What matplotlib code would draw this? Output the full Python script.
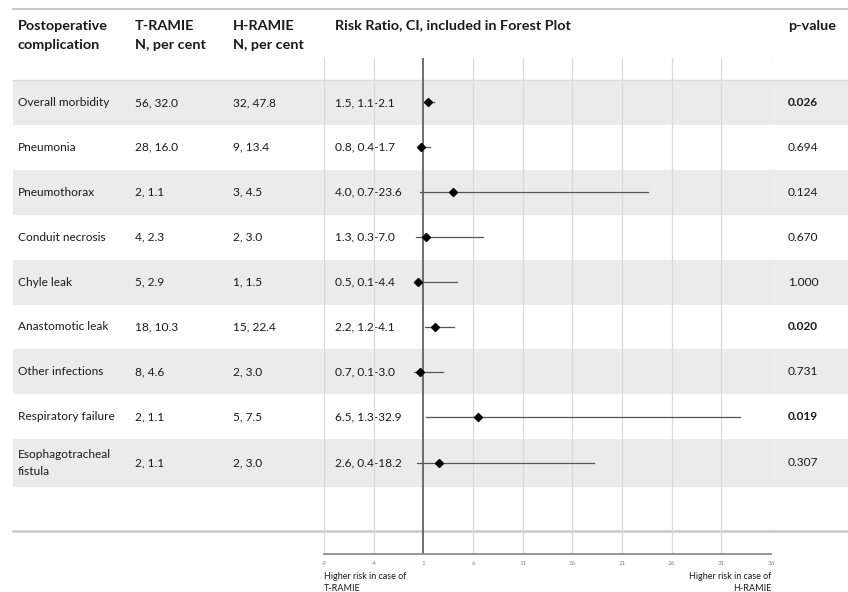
import matplotlib.pyplot as plt

plt.rcParams['font.family'] = ['Lato', 'DejaVu Sans']

complications = ['Overall morbidity', 'Pneumonia', 'Pneumothorax', 'Conduit necrosis',
                 'Chyle leak', 'Anastomotic leak', 'Other infections',
                 'Respiratory failure', 'Esophagotracheal\nfistula']
t_ramie = ['56, 32.0', '28, 16.0', '2, 1.1', '4, 2.3', '5, 2.9', '18, 10.3',
           '8, 4.6', '2, 1.1', '2, 1.1']
h_ramie = ['32, 47.8', '9, 13.4', '3, 4.5', '2, 3.0', '1, 1.5', '15, 22.4',
           '2, 3.0', '5, 7.5', '2, 3.0']
rr = [1.5, 0.8, 4.0, 1.3, 0.5, 2.2, 0.7, 6.5, 2.6]
ci_low = [1.1, 0.4, 0.7, 0.3, 0.1, 1.2, 0.1, 1.3, 0.4]
ci_high = [2.1, 1.7, 23.6, 7.0, 4.4, 4.1, 3.0, 32.9, 18.2]
p_values = ['0.026', '0.694', '0.124', '0.670', '1.000', '0.020', '0.731', '0.019', '0.307']
x_ticks = [-9, -4, 1, 6, 11, 16, 21, 26, 31, 36]

W, H = 848, 592
fig = plt.figure(figsize=(W / 100, H / 100), dpi=100)

# background / table layer in pixel coords
bg = fig.add_axes([0, 0, 1, 1])
bg.set_xlim(0, W)
bg.set_ylim(H, 0)
bg.axis('off')

row_top, row_h = 80, 44.9
n = len(complications)
tops = [row_top + i * row_h for i in range(n)]
heights = [row_h] * (n - 1) + [47.5]
centers = [t + h / 2 for t, h in zip(tops, heights)]

band = '#ebebeb'
line_c = '#c9c9c9'
txt_c = '#1a1a1a'
fs = 8.6

bg.plot([13, W], [8.5, 8.5], color=line_c, lw=1.5)
bg.plot([13, W], [531, 531], color=line_c, lw=1.8)
bg.plot([13, W], [row_top, row_top], color='#d8d8d8', lw=1.0)

for i in range(n):
    if i % 2 == 0:
        bg.add_patch(plt.Rectangle((13, tops[i]), W - 13, heights[i], color=band, lw=0,
                                   zorder=0))
    yc = centers[i]
    bg.text(18, yc, complications[i], va='center', ha='left', fontsize=fs, color=txt_c,
            linespacing=1.7)
    bg.text(135, yc, t_ramie[i], va='center', ha='left', fontsize=fs, color=txt_c)
    bg.text(233, yc, h_ramie[i], va='center', ha='left', fontsize=fs, color=txt_c)
    bg.text(335, yc, f'{rr[i]:.1f}, {ci_low[i]:.1f}-{ci_high[i]:.1f}', va='center',
            ha='left', fontsize=fs, color=txt_c)
    bold = float(p_values[i]) < 0.05
    bg.text(788, yc, p_values[i], va='center', ha='left', fontsize=fs, color=txt_c,
            fontweight='bold' if bold else 'normal')

hdr = dict(va='top', ha='left', fontsize=10.4, fontweight='bold', color=txt_c,
           linespacing=1.75)
bg.text(18, 19.5, 'Postoperative\ncomplication', **hdr)
bg.text(135, 19.5, 'T-RAMIE\nN, per cent', **hdr)
bg.text(233, 19.5, 'H-RAMIE\nN, per cent', **hdr)
bg.text(335, 19.5, 'Risk Ratio, CI, included in Forest Plot', **hdr)
bg.text(788, 19.5, 'p-value', **hdr)

# forest plot layer
x_px0, x_px1, y_px0, y_px1 = 324, 771, 58, 554
ax = fig.add_axes([x_px0 / W, 1 - y_px1 / H, (x_px1 - x_px0) / W, (y_px1 - y_px0) / H])
ax.patch.set_alpha(0)
ax.set_xlim(-9, 36)
ax.set_ylim(y_px1, y_px0)
for xt in x_ticks:
    if xt != 1:
        ax.axvline(xt, color='#d9d9d9', lw=0.9, zorder=1)
ax.axvline(1, color='#555555', lw=1.2, zorder=2)
for i in range(n):
    ax.plot([ci_low[i], ci_high[i]], [centers[i], centers[i]], color='#555555', lw=0.9,
            zorder=3)
    ax.plot(rr[i], centers[i], marker='D', ms=4.3, color='black', zorder=4)

for s in ['top', 'left', 'right']:
    ax.spines[s].set_visible(False)
ax.spines['bottom'].set_color('#8c8c8c')
ax.spines['bottom'].set_linewidth(1.3)
ax.set_xticks(x_ticks)
ax.set_xticklabels([str(t) for t in x_ticks], fontsize=4.5, color='#808080')
ax.tick_params(axis='x', length=0, pad=5)
ax.set_yticks([])

bg.text(324, 572, 'Higher risk in case of\nT-RAMIE', va='top', ha='left', fontsize=6.5,
        color=txt_c, linespacing=1.45)
bg.text(771, 572, 'Higher risk in case of\nH-RAMIE', va='top', ha='right', fontsize=6.5,
        color=txt_c, linespacing=1.45, multialignment='right')

fig.savefig('out.png', dpi=100)
